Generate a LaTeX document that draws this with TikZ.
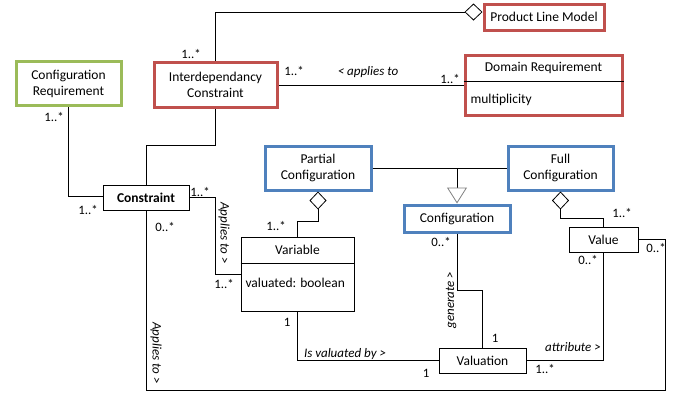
\documentclass[tikz,border=0pt]{standalone}
\usepackage{fontspec}
\setmainfont{Carlito}
\usetikzlibrary{arrows.meta,positioning}
\definecolor{umlred}{RGB}{192,80,77}
\definecolor{umlblue}{RGB}{79,129,189}
\definecolor{umlgreen}{RGB}{155,187,89}

\begin{document}
\begin{tikzpicture}[x=1pt,y=-1pt,
		cls/.style={draw, line width=1pt, inner sep=0pt, font=\fontsize{13.5}{16}\selectfont, align=center},
		redcls/.style={cls, draw=umlred, line width=3pt},
		bluecls/.style={cls, draw=umlblue, line width=3pt},
		greencls/.style={cls, draw=umlgreen, line width=3pt},
		mult/.style={font=\fontsize{12.8}{14}\selectfont},
		role/.style={font=\fontsize{13}{14}\selectfont\itshape},
		assoc/.style={line width=0.8pt},
		agg/.style={assoc, {Diamond[open,length=18pt,width=17pt]}-},
		gen/.style={assoc, -{Triangle[open,length=16pt,width=20pt,color=gray]}}]
			\useasboundingbox (0,0) rectangle (678,392);
			\coordinate (drsep) at (0,81);
			\coordinate (varsep) at (0,263);
			\coordinate (icbend) at (0,145);
			\coordinate (botR) at (665,390.5);
			% classes
			\node[redcls, minimum width=120, minimum height=26] (plm) at (544,17) {Product Line Model};
			\node[redcls, minimum width=123, minimum height=45] (ic) at (215.5,85) {Interdependancy\\Constraint};
			\node[redcls, minimum width=157, minimum height=60] (dr) at (543.5,85) {};
			\node[font=\fontsize{13.5}{16}\selectfont] at (543.5,68) {Domain Requirement};
			\node[font=\fontsize{13.5}{16}\selectfont, anchor=west] at (467,100) {multiplicity};
			\draw[line width=1pt] (dr.west |- drsep) -- (dr.east |- drsep);
			\node[greencls, minimum width=105, minimum height=44] (cr) at (68.5,83.5) {Configuration\\Requirement};
			\node[cls, minimum width=86, minimum height=25, font=\fontsize{13.5}{16}\selectfont\bfseries] (con) at (146,197.5) {Constraint};
			\node[cls, minimum width=113, minimum height=74] (var) at (297.5,274) {};
			\node[font=\fontsize{13.5}{16}\selectfont] at (297.5,250) {Variable};
			\node[font=\fontsize{13.5}{16}\selectfont, anchor=west] at (242,283) {valuated: boolean};
			\draw[line width=1pt] (var.west |- varsep) -- (var.east |- varsep);
			\node[bluecls, minimum width=106, minimum height=44] (pc) at (318,168) {Partial\\Configuration};
			\node[bluecls, minimum width=105, minimum height=44] (fc) at (560.5,168) {Full\\Configuration};
			\node[bluecls, minimum width=106, minimum height=27] (conf) at (457,218.5) {Configuration};
			\node[cls, minimum width=87, minimum height=25] (val) at (482.5,360.5) {Valuation};
			\node[cls, minimum width=69, minimum height=25] (value) at (603.5,239.5) {Value};
			% connectors
			\draw[agg] ([yshift=5pt]plm.west) -| (ic.north);
			\draw[assoc] (ic.east) -- (dr.west);
			\draw[assoc] (cr.south) |- ([yshift=1.5pt]con.west);
			\draw[assoc] (ic.south) -- (ic.south |- icbend) -| (con.north);
			\draw[assoc] (con.east) -- ++(26,0) |- (var.west);
			\draw[assoc] (con.south) |- (botR) |- (value.east);
			\draw[agg] (pc.south) -- ++(0,30) -| (var.north);
			\draw[assoc] (pc.east) -- (fc.west);
			\draw[gen] (conf.north |- pc.east) -- (conf.north);
			\draw[agg] (fc.south) -- ++(0,27) -| (value.north);
			\draw[assoc] (conf.south) -- ++(0,57) -| (val.north);
			\draw[assoc] (var.south) |- (val.west);
			\draw[assoc] (val.east) -| (value.south);
			% multiplicities
			\node[mult] at (191,54) {1..*};
			\node[mult] at (294,71) {1..*};
			\node[mult] at (450,79) {1..*};
			\node[mult] at (54,117) {1..*};
			\node[mult] at (88,210) {1..*};
			\node[mult] at (200,192) {1..*};
			\node[mult] at (165,227) {0..*};
			\node[mult] at (224,284) {1..*};
			\node[mult] at (276,226) {1..*};
			\node[mult] at (287,322) {1};
			\node[mult] at (441,242) {0..*};
			\node[mult] at (495,338) {1};
			\node[mult] at (426,373) {1};
			\node[mult] at (545,369) {1..*};
			\node[mult] at (588,260) {0..*};
			\node[mult] at (622,213) {1..*};
			\node[mult] at (656,248) {0..*};
			% roles
			\node[role] at (368,72) {< applies to};
			\node[role, rotate=-90] at (224,233) {Applies to >};
			\node[role, rotate=-90] at (156,353) {Applies to >};
			\node[role, rotate=90] at (451,300) {generate >};
			\node[role] at (345,354) {Is valuated by >};
			\node[role] at (573,347) {attribute >};
		\end{tikzpicture}
\end{document}
